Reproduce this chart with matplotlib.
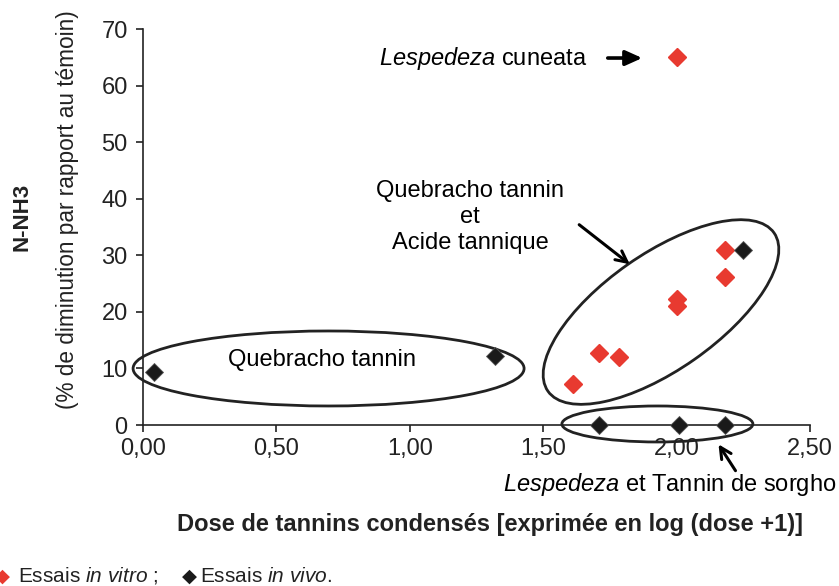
import matplotlib
matplotlib.use('Agg')
import matplotlib.pyplot as plt
from matplotlib.patches import Ellipse
from matplotlib import transforms

plt.rcParams['font.family'] = ['Liberation Sans', 'DejaVu Sans']
plt.rcParams['mathtext.fontset'] = 'custom'
plt.rcParams['mathtext.rm'] = 'Liberation Sans'
plt.rcParams['mathtext.it'] = 'Liberation Sans:italic'
plt.rcParams['mathtext.bf'] = 'Liberation Sans:bold'

# data: dose (log(dose+1)) vs N-NH3 decrease (%)
vitro_x = [1.61, 1.71, 1.785, 2.00, 2.00, 2.18, 2.18, 2.00]
vitro_y = [7.2, 12.7, 12.0, 22.2, 21.0, 26.1, 30.9, 65.0]
vivo_x = [0.04, 1.32, 1.71, 2.01, 2.18, 2.25]
vivo_y = [9.4, 12.2, 0.0, 0.0, 0.0, 30.9]

xticks = [0.0, 0.5, 1.0, 1.5, 2.0, 2.5]
xticklabels = ['0,00', '0,50', '1,00', '1,50', '2,00', '2,50']
yticks = [0, 10, 20, 30, 40, 50, 60, 70]

red = '#e83a30'
dark = '#1a1a1a'
W, H = 839, 586

fig = plt.figure(figsize=(8.39, 5.86), dpi=100)
ax = fig.add_axes([143/W, 1 - 425/H, (810-143)/W, (425-29)/H])

ax.plot(vitro_x, vitro_y, 'D', color=red, ms=9.5, mec=red, clip_on=False, zorder=3)
ax.plot(vivo_x, vivo_y, 'D', color=dark, ms=9.2, mec='#555555', mew=0.6, clip_on=False, zorder=4)

ax.set_xlim(0, 2.5)
ax.set_ylim(0, 70)
ax.set_xticks(xticks)
ax.set_xticklabels(xticklabels)
ax.set_yticks(yticks)
ax.tick_params(labelsize=17, length=5, width=1.2, direction='out', colors='#222222')
ax.tick_params(axis='y', pad=6)
ax.tick_params(axis='x', pad=4)
for s in ['top', 'right']:
    ax.spines[s].set_visible(False)
for s in ['left', 'bottom']:
    ax.spines[s].set_linewidth(1.2)
    ax.spines[s].set_color('#222222')


def ellipse(cx, cy, w_px, h_px, angle):
    # size in pixels, centred on a data point
    tr = fig.dpi_scale_trans + transforms.ScaledTranslation(cx, cy, ax.transData)
    e = Ellipse((0, 0), w_px/100, h_px/100, angle=angle, transform=tr,
                fill=False, ec='#222222', lw=2.0, clip_on=False, zorder=2)
    ax.add_patch(e)

ellipse(0.6956, 9.99, 391, 75, 0)
ellipse(1.9415, 19.97, 276, 116, 35)
ellipse(1.928, 0.18, 191, 36, 0)

# annotations
ax.text(1.664, 64.87, r'$\it{Lespedeza}$ cuneata', fontsize=17, ha='right', va='center')
ax.annotate('', xy=(1.8816, 64.87), xytext=(1.7316, 64.87),
            arrowprops=dict(arrowstyle='-|>,head_length=1.0,head_width=0.45', lw=2.6, color='black'))

ax.text(1.2256, 36.77, 'Quebracho tannin\net\nAcide tannique', fontsize=17,
        ha='center', va='center', multialignment='center', linespacing=1.25)
ax.annotate('', xy=(1.8328, 28.11), xytext=(1.6267, 35.71),
            arrowprops=dict(arrowstyle='->,head_length=0.8,head_width=0.4', lw=2.2, color='black'))

ax.text(0.671, 11.49, 'Quebracho tannin', fontsize=17, ha='center', va='center')

ax.text(2.597, -10.43, r'$\it{Lespedeza}$ et Tannin de sorgho', fontsize=17,
        ha='right', va='center')
ax.annotate('', xy=(2.1514, -3.0), xytext=(2.2264, -8.49), annotation_clip=False,
            arrowprops=dict(arrowstyle='->,head_length=0.8,head_width=0.4', lw=2.2, color='black'))

# axis titles
fig.text(490/W, 1 - 525/H, 'Dose de tannins condensés [exprimée en log (dose +1)]',
         fontsize=17, fontweight='bold', ha='center', va='center', color='#222222')
fig.text(22/W, 1 - 217/H, 'N-NH3', fontsize=16, fontweight='bold', rotation=90,
         ha='center', va='center', color='#222222')
fig.text(68/W, 1 - 210/H, '(% de diminution par rapport au témoin)', fontsize=16.3,
         rotation=90, ha='center', va='center', color='#222222')

# legend line at bottom
fig.text(-5/W, 1 - 576/H, '◆', fontsize=14, color=red, family='DejaVu Sans', ha='left', va='center')
fig.text(18/W, 1 - 576/H, r'Essais $\it{in\ vitro\ ;}$', fontsize=15, ha='left', va='center', color='#222222')
fig.text(182/W, 1 - 576/H, '◆', fontsize=14, color=dark, family='DejaVu Sans', ha='left', va='center')
fig.text(200/W, 1 - 576/H, r'Essais $\it{in\ vivo}$.', fontsize=15, ha='left', va='center', color='#222222')

fig.savefig('out.png', dpi=100)
